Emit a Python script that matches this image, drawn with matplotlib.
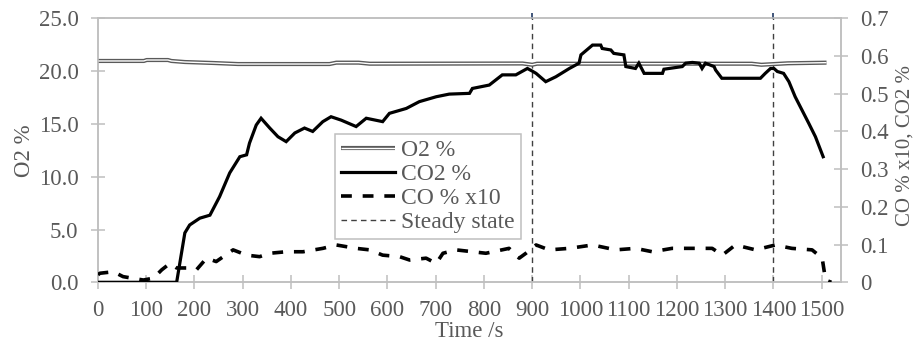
import matplotlib
matplotlib.use('Agg')
import matplotlib.pyplot as plt
from matplotlib.lines import Line2D

# fonts - Times-like serif
plt.rcParams['font.family'] = ['Liberation Serif', 'DejaVu Serif']

# O2 % (left axis)
o2_time = [0, 95, 101, 145, 152, 180, 238, 290, 480, 494, 540, 563, 880, 900, 910,
           1355, 1375, 1430, 1510]
o2_value = [20.96, 20.96, 21.05, 21.05, 20.96, 20.86, 20.77, 20.67, 20.67, 20.8, 20.8,
            20.7, 20.72, 20.6, 20.7, 20.7, 20.6, 20.74, 20.8]

# CO2 % (right axis)
co2_time = [0, 163, 180, 190, 211, 232, 252, 273, 294, 308, 314, 328, 338, 356, 373,
            390, 408, 428, 445, 466, 483, 504, 535, 556, 590, 604, 639, 666, 701, 728,
            770, 776, 811, 838, 866, 890, 900, 908, 928, 949, 977, 997, 1001, 1025,
            1042, 1045, 1063, 1069, 1090, 1094, 1114, 1121, 1132, 1170, 1173, 1211,
            1218, 1232, 1246, 1252, 1259, 1277, 1280, 1293, 1373, 1383, 1394, 1401,
            1408, 1421, 1432, 1445, 1459, 1473, 1487, 1503]
co2_value = [0, 0, 0.131, 0.152, 0.17, 0.178, 0.227, 0.29, 0.333, 0.338, 0.369, 0.417,
             0.435, 0.409, 0.386, 0.373, 0.396, 0.409, 0.40, 0.426, 0.439, 0.43, 0.413,
             0.435, 0.426, 0.448, 0.461, 0.479, 0.492, 0.499, 0.501, 0.514, 0.523, 0.55,
             0.55, 0.567, 0.56, 0.554, 0.532, 0.545, 0.567, 0.581, 0.603, 0.629, 0.629,
             0.62, 0.616, 0.607, 0.603, 0.572, 0.567, 0.581, 0.554, 0.554, 0.565, 0.572,
             0.581, 0.583, 0.581, 0.567, 0.581, 0.572, 0.563, 0.541, 0.541, 0.554,
             0.567, 0.567, 0.559, 0.554, 0.532, 0.492, 0.457, 0.422, 0.386, 0.333]

# CO % x10 (right axis)
co_time = [0, 4, 32, 52, 94, 115, 132, 149, 163, 183, 204, 225, 245, 280, 308, 335,
           356, 390, 425, 466, 494, 535, 563, 590, 625, 646, 680, 701, 715, 742, 804,
           852, 873, 887, 908, 935, 977, 1025, 1073, 1114, 1149, 1190, 1232, 1273,
           1294, 1321, 1363, 1404, 1438, 1480, 1501, 1508, 1520]
co_value = [0.02, 0.024, 0.028, 0.015, 0.006, 0.011, 0.033, 0.05, 0.038, 0.038, 0.033,
            0.064, 0.055, 0.086, 0.072, 0.068, 0.077, 0.081, 0.081, 0.09, 0.099, 0.09,
            0.086, 0.072, 0.068, 0.059, 0.064, 0.05, 0.077, 0.086, 0.077, 0.09, 0.064,
            0.077, 0.099, 0.086, 0.09, 0.099, 0.086, 0.09, 0.081, 0.09, 0.09, 0.09,
            0.072, 0.099, 0.086, 0.099, 0.09, 0.086, 0.064, 0.006, 0.0]

# steady state markers
steady_times = [900, 1400]

x_ticks = list(range(0, 1501, 100))
left_ticks = [0, 5, 10, 15, 20, 25]
right_ticks = [0, 0.1, 0.2, 0.3, 0.4, 0.5, 0.6, 0.7]
right_labels = ['0', '0.1', '0.2', '0.3', '0.4', '0.5', '0.6', '0.7']

# colors
axis_color = '#bfbfbf'
text_color = '#595959'
line_color = 'black'
o2_edge = '#5a5a5a'
steady_color = '#404040'

fig = plt.figure(figsize=(9.16, 3.46), dpi=100)
ax = fig.add_axes([98 / 916, 1 - 282.3 / 346, 743 / 916, 264 / 346])
ax2 = ax.twinx()

# steady state lines
for t in steady_times:
    ax.plot([t, t], [0, 25], color=steady_color, lw=1.0, dashes=(4, 3), zorder=2)
    ax.plot([t], [25.2], marker='|', ms=4, mew=1.2, color='#1f3864', clip_on=False, zorder=3)

# O2 as a double line
ax.plot(o2_time, o2_value, color=o2_edge, lw=3.0, solid_capstyle='butt', zorder=3)
ax.plot(o2_time, o2_value, color='white', lw=1.0, solid_capstyle='butt', zorder=4)

# CO2 and CO
ax2.plot(co2_time, co2_value, color=line_color, lw=2.3, solid_joinstyle='miter', zorder=3)
ax2.plot(co_time, co_value, color=line_color, lw=2.6, dashes=(3, 3), zorder=3)

# axes limits and ticks
ax.set_xlim(0, 1540)
ax.set_ylim(0, 25)
ax2.set_ylim(0, 0.7)
ax.set_xticks(x_ticks)
ax.set_xticklabels([str(x) for x in x_ticks])
ax.set_yticks(left_ticks)
ax.set_yticklabels([f'{v:.1f}' for v in left_ticks])
ax2.set_yticks(right_ticks)
ax2.set_yticklabels(right_labels)

for a in (ax, ax2):
    a.tick_params(direction='inout', length=10, width=1.1, color=axis_color,
                  labelcolor=text_color, labelsize=16.5, pad=8)
    for s in a.spines.values():
        s.set_color(axis_color)
        s.set_linewidth(1.1)
ax.tick_params(axis='y', pad=9)
ax2.tick_params(axis='y', pad=9)

ax.set_xlabel('Time /s', fontsize=16.5, color=text_color)
ax.xaxis.set_label_coords(0.5, -0.145)
ax.set_ylabel('O2 %', fontsize=16.5, color=text_color)
ax.yaxis.set_label_coords(-0.085, 0.5)
ax2.set_ylabel('CO % x10, CO2 %', fontsize=15, color=text_color)
ax2.yaxis.set_label_coords(1.074, 0.52)

# legend
o2_outer = Line2D([], [], color=o2_edge, lw=3.0, solid_capstyle='butt')
o2_inner = Line2D([], [], color='white', lw=1.0, solid_capstyle='butt')
co2_h = Line2D([], [], color=line_color, lw=2.3)
co_h = Line2D([], [], color=line_color, lw=2.6, dashes=(3, 3))
steady_h = Line2D([], [], color=steady_color, lw=1.0, dashes=(4, 3))
leg = ax2.legend([(o2_outer, o2_inner), co2_h, co_h, steady_h],
                 ['O2 %', 'CO2 %', 'CO % x10', 'Steady state'],
                 loc='upper left', bbox_to_anchor=(335 / 916, 1 - 134 / 346),
                 bbox_transform=fig.transFigure, fontsize=17, frameon=True,
                 fancybox=False, framealpha=1, edgecolor=axis_color,
                 handlelength=2.3, handletextpad=0.25, labelspacing=0.1,
                 borderpad=0.25, borderaxespad=0)
leg.get_frame().set_linewidth(1.1)
for txt in leg.get_texts():
    txt.set_color(text_color)

fig.savefig('out.png', dpi=100)
